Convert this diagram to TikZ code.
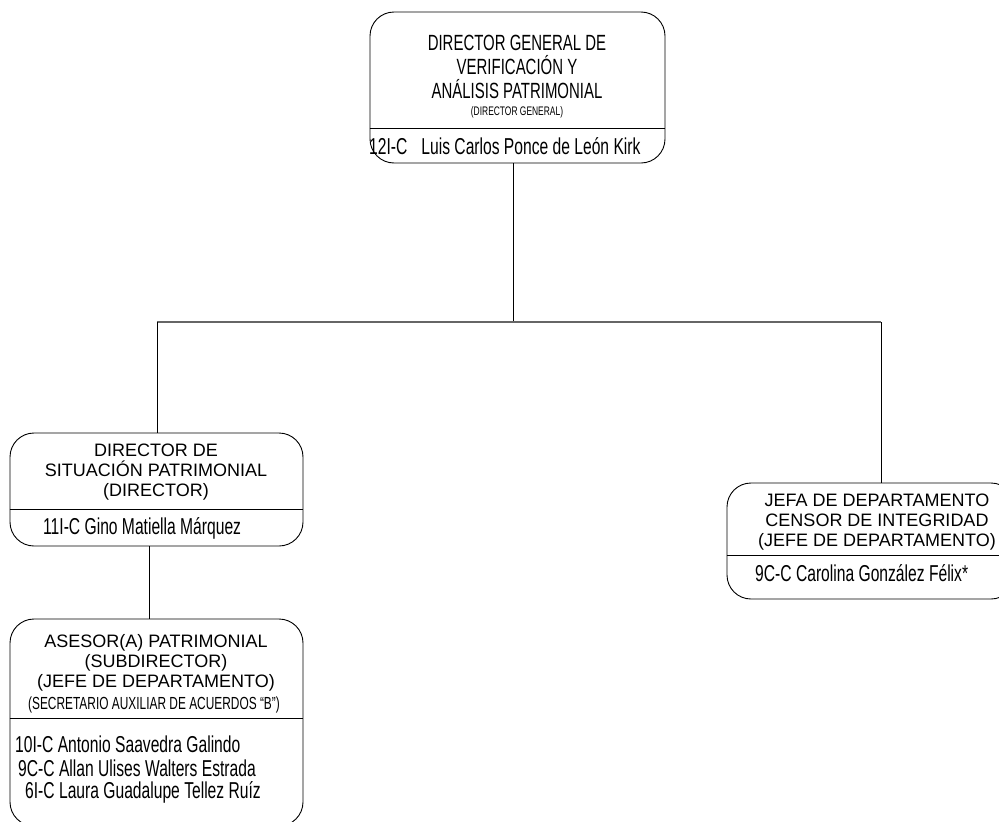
\documentclass[tikz,border=0pt]{standalone}
\usepackage{fontspec}
\setmainfont{Liberation Sans}
\newfontfamily\narrowfont{Liberation Sans}[FakeStretch=0.68]
\usetikzlibrary{positioning}

\tikzset{
  orgbox/.style={draw, rounded corners=24pt, line width=0.9pt, inner sep=0pt},
  title/.style={align=center, inner sep=0pt, font=\fontsize{18}{20}\selectfont},
  ntitle/.style={align=center, inner sep=0pt, font=\narrowfont\fontsize{22}{24}\selectfont},
  holder/.style={anchor=west, inner sep=0pt, font=\narrowfont\fontsize{23}{23}\selectfont},
  link/.style={line width=0.8pt},
  bar/.style={line width=1.3pt, gray!80!black},
}

\begin{document}
\begin{tikzpicture}[x=1pt, y=-1pt]
\useasboundingbox (0,0) rectangle (999,822);
\clip (0,0) rectangle (999,822);
% boxes
\node[orgbox, minimum width=295pt, minimum height=151pt] (dg) at (517.5,87.5) {};
\node[orgbox, minimum width=293pt, minimum height=113pt] (dsp) at (156.5,489.5) {};
\node[orgbox, minimum width=293pt, minimum height=207pt] (ap) at (156.5,722.5) {};
\node[orgbox, minimum width=288pt, minimum height=116pt] (jd) at (871,541) {};
\draw[link] ([yshift=-40.5pt]dg.west) -- ([yshift=-40.5pt]dg.east);
\draw[link] ([yshift=-19.5pt]dsp.west) -- ([yshift=-19.5pt]dsp.east);
\draw[link] ([yshift=4pt]ap.west) -- ([yshift=4pt]ap.east);
\draw[link] ([yshift=-14pt]jd.west) -- ([yshift=-14pt]jd.east);

% texts
\node[ntitle] (dgt) at (517,67) {DIRECTOR GENERAL DE\\VERIFICACIÓN Y\\ANÁLISIS PATRIMONIAL};
\node[inner sep=0pt, font=\narrowfont\fontsize{12.4}{13}\selectfont] (dgs) at (517,112) {(DIRECTOR GENERAL)};
\node[holder] (dgn) at (369,146) {12I-C\hspace{14pt}Luis Carlos Ponce de León Kirk};

\node[title] (dspt) at (156,472) {DIRECTOR DE\\SITUACIÓN PATRIMONIAL\\(DIRECTOR)};
\node[holder] (dspn) at (43,528) {11I-C Gino Matiella Márquez};

\node[title] (apt) at (156,663) {ASESOR(A) PATRIMONIAL\\(SUBDIRECTOR)\\(JEFE DE DEPARTAMENTO)};
\node[inner sep=0pt, font=\narrowfont\fontsize{17.5}{18}\selectfont] (aps) at (154,704.5) {(SECRETARIO AUXILIAR DE ACUERDOS “B”)};
\node[holder] (apn1) at (15,744) {10I-C Antonio Saavedra Galindo};
\node[holder] (apn2) at (18,768) {9C-C Allan Ulises Walters Estrada};
\node[holder] (apn3) at (25,792) {6I-C Laura Guadalupe Tellez Ruíz};

\node[title] (jdt) at (877,522) {JEFA DE DEPARTAMENTO\\CENSOR DE INTEGRIDAD\\(JEFE DE DEPARTAMENTO)};
\node[holder] (jdn) at (755,573) {9C-C Carolina González Félix*};

% connectors
\coordinate (hub) at (513,322);
\coordinate (hubL) at (157,322);
\coordinate (hubR) at (881,322);
\draw[link] (dg.south -| hub) -- (hub);
\draw[bar] (hubL) -- (hubR);
\draw[link] (hubL) -- (dsp.north -| hubL);
\draw[link] (hubR) -- (jd.north -| hubR);
\draw[link] ([xshift=-7.5pt]dsp.south) -- ([xshift=-7.5pt]ap.north);
\end{tikzpicture}
\end{document}
